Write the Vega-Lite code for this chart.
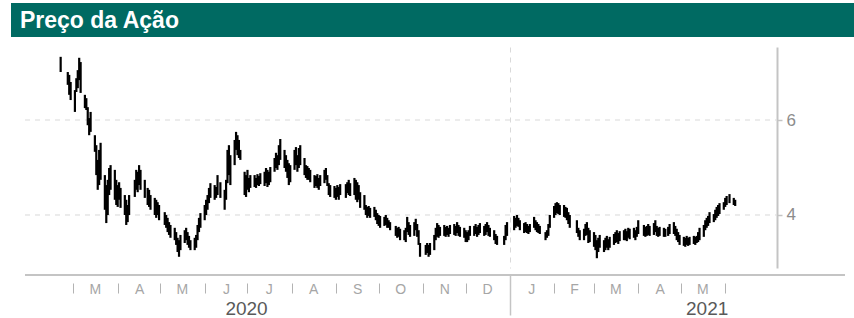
{
  "$schema": "https://vega.github.io/schema/vega-lite/v6.json",
  "padding": {"left": 11, "top": 3, "right": 0, "bottom": 0},
  "background": "white",
  "config": {"view": {"stroke": null}, "font": "Liberation Sans"},
  "spacing": 10,
  "vconcat": [
    {
      "width": 843,
      "height": 34,
      "view": {"fill": "#006a62", "stroke": null},
      "data": {"values": [{"t": "Preço da Ação"}]},
      "mark": {"type": "text", "align": "left", "baseline": "middle", "color": "white", "fontSize": 23, "fontWeight": "bold", "font": "Liberation Sans", "dx": 9, "dy": 1},
      "encoding": {
        "text": {"field": "t"},
        "x": {"datum": 0, "type": "quantitative", "scale": {"domain": [0, 1]}, "axis": null},
        "y": {"datum": 0.5, "type": "quantitative", "scale": {"domain": [0, 1]}, "axis": null}
      }
    },
    {
      "width": 834,
      "height": 221,
      "layer": [
        {
          "data": {"values": [{"g": 4}, {"g": 6}]},
          "mark": {"type": "rule", "color": "#d9d9d9", "strokeDash": [5, 5], "strokeWidth": 1},
          "encoding": {
            "y": {"field": "g", "type": "quantitative", "axis": null},
            "x": {"datum": {"year": 2020, "month": 1, "date": 27, "utc": true}, "type": "temporal", "scale": {"type": "utc"}, "axis": null},
            "x2": {"datum": {"year": 2021, "month": 7, "date": 7, "utc": true}}
          }
        },
        {
          "data": {"values": [{"g": 2.737}]},
          "mark": {"type": "rule", "color": "#c4c4c4", "strokeWidth": 2},
          "encoding": {
            "y": {"field": "g", "type": "quantitative", "axis": null},
            "x": {"datum": {"year": 2020, "month": 1, "date": 27, "utc": true}, "type": "temporal", "scale": {"type": "utc"}, "axis": null},
            "x2": {"datum": {"year": 2021, "month": 8, "date": 24, "utc": true}}
          }
        },
        {
          "data": {"values": [
{"d":"2020-02-21","lo":7.01,"hi":7.33},{"d":"2020-02-26","lo":6.74,"hi":7.01},{"d":"2020-02-27","lo":6.53,"hi":6.95},{"d":"2020-02-28","lo":6.42,"hi":6.80},
{"d":"2020-03-02","lo":6.17,"hi":6.63},{"d":"2020-03-03","lo":6.59,"hi":6.88},{"d":"2020-03-04","lo":6.67,"hi":7.05},{"d":"2020-03-05","lo":6.84,"hi":7.31},{"d":"2020-03-06","lo":6.57,"hi":7.22},
{"d":"2020-03-09","lo":6.25,"hi":6.53},{"d":"2020-03-10","lo":6.21,"hi":6.46},{"d":"2020-03-11","lo":5.89,"hi":6.27},{"d":"2020-03-12","lo":5.68,"hi":6.04},{"d":"2020-03-13","lo":5.75,"hi":6.17},
{"d":"2020-03-16","lo":5.33,"hi":5.68},{"d":"2020-03-17","lo":4.84,"hi":5.47},{"d":"2020-03-18","lo":4.53,"hi":5.16},{"d":"2020-03-19","lo":4.63,"hi":5.37},{"d":"2020-03-20","lo":4.74,"hi":5.52},
{"d":"2020-03-23","lo":4.11,"hi":4.84},{"d":"2020-03-24","lo":3.83,"hi":4.63},{"d":"2020-03-25","lo":4.00,"hi":4.74},{"d":"2020-03-26","lo":4.42,"hi":4.99},{"d":"2020-03-27","lo":4.53,"hi":5.05},
{"d":"2020-03-30","lo":4.32,"hi":4.95},{"d":"2020-03-31","lo":4.21,"hi":4.74},{"d":"2020-04-01","lo":4.17,"hi":4.63},{"d":"2020-04-02","lo":4.32,"hi":4.69},{"d":"2020-04-03","lo":4.15,"hi":4.57},
{"d":"2020-04-06","lo":4.00,"hi":4.42},{"d":"2020-04-07","lo":3.79,"hi":4.32},{"d":"2020-04-08","lo":3.85,"hi":4.21},{"d":"2020-04-09","lo":4.00,"hi":4.42},
{"d":"2020-04-13","lo":4.38,"hi":4.74},{"d":"2020-04-14","lo":4.53,"hi":4.95},{"d":"2020-04-15","lo":4.48,"hi":4.91},{"d":"2020-04-16","lo":4.63,"hi":5.05},{"d":"2020-04-17","lo":4.53,"hi":4.95},
{"d":"2020-04-20","lo":4.36,"hi":4.74},{"d":"2020-04-22","lo":4.21,"hi":4.57},{"d":"2020-04-23","lo":4.17,"hi":4.53},{"d":"2020-04-24","lo":4.11,"hi":4.42},
{"d":"2020-04-27","lo":4.00,"hi":4.36},{"d":"2020-04-28","lo":3.94,"hi":4.32},{"d":"2020-04-29","lo":4.00,"hi":4.27},{"d":"2020-04-30","lo":3.89,"hi":4.21},
{"d":"2020-05-04","lo":3.79,"hi":4.06},{"d":"2020-05-05","lo":3.73,"hi":4.00},{"d":"2020-05-06","lo":3.64,"hi":3.94},{"d":"2020-05-07","lo":3.58,"hi":3.85},{"d":"2020-05-08","lo":3.52,"hi":3.79},
{"d":"2020-05-11","lo":3.47,"hi":3.73},{"d":"2020-05-12","lo":3.37,"hi":3.64},{"d":"2020-05-13","lo":3.22,"hi":3.52},{"d":"2020-05-14","lo":3.12,"hi":3.47},{"d":"2020-05-15","lo":3.26,"hi":3.58},
{"d":"2020-05-18","lo":3.41,"hi":3.68},{"d":"2020-05-19","lo":3.47,"hi":3.73},{"d":"2020-05-20","lo":3.37,"hi":3.64},{"d":"2020-05-21","lo":3.31,"hi":3.56},{"d":"2020-05-22","lo":3.26,"hi":3.47},
{"d":"2020-05-25","lo":3.26,"hi":3.52},{"d":"2020-05-26","lo":3.31,"hi":3.58},{"d":"2020-05-27","lo":3.47,"hi":3.79},{"d":"2020-05-28","lo":3.64,"hi":3.94},{"d":"2020-05-29","lo":3.73,"hi":4.04},
{"d":"2020-06-01","lo":3.89,"hi":4.21},{"d":"2020-06-02","lo":4.00,"hi":4.32},{"d":"2020-06-03","lo":4.11,"hi":4.42},{"d":"2020-06-04","lo":4.25,"hi":4.57},{"d":"2020-06-05","lo":4.36,"hi":4.67},
{"d":"2020-06-08","lo":4.32,"hi":4.63},{"d":"2020-06-09","lo":4.36,"hi":4.59},{"d":"2020-06-10","lo":4.42,"hi":4.84},{"d":"2020-06-12","lo":4.36,"hi":4.69},
{"d":"2020-06-15","lo":4.11,"hi":4.53},{"d":"2020-06-16","lo":4.32,"hi":4.74},{"d":"2020-06-17","lo":4.67,"hi":5.37},{"d":"2020-06-18","lo":4.84,"hi":5.47},{"d":"2020-06-19","lo":4.63,"hi":5.26},
{"d":"2020-06-22","lo":5.05,"hi":5.58},{"d":"2020-06-23","lo":5.37,"hi":5.75},{"d":"2020-06-24","lo":5.26,"hi":5.68},{"d":"2020-06-25","lo":5.20,"hi":5.58},{"d":"2020-06-26","lo":5.16,"hi":5.37},
{"d":"2020-06-29","lo":4.42,"hi":4.91},{"d":"2020-06-30","lo":4.38,"hi":4.84},{"d":"2020-07-01","lo":4.53,"hi":4.95},{"d":"2020-07-02","lo":4.48,"hi":4.78},{"d":"2020-07-03","lo":4.57,"hi":4.84},
{"d":"2020-07-06","lo":4.59,"hi":4.84},{"d":"2020-07-07","lo":4.57,"hi":4.78},{"d":"2020-07-08","lo":4.63,"hi":4.86},{"d":"2020-07-09","lo":4.61,"hi":4.82},{"d":"2020-07-10","lo":4.65,"hi":4.88},
{"d":"2020-07-13","lo":4.61,"hi":4.91},{"d":"2020-07-14","lo":4.67,"hi":4.99},{"d":"2020-07-15","lo":4.59,"hi":4.95},{"d":"2020-07-16","lo":4.63,"hi":4.91},{"d":"2020-07-17","lo":4.69,"hi":5.01},
{"d":"2020-07-20","lo":4.91,"hi":5.20},{"d":"2020-07-21","lo":4.99,"hi":5.31},{"d":"2020-07-22","lo":4.95,"hi":5.26},{"d":"2020-07-23","lo":5.05,"hi":5.47},{"d":"2020-07-24","lo":5.16,"hi":5.60},
{"d":"2020-07-27","lo":4.99,"hi":5.37},{"d":"2020-07-28","lo":4.91,"hi":5.26},{"d":"2020-07-29","lo":4.78,"hi":5.16},{"d":"2020-07-30","lo":4.63,"hi":5.09},{"d":"2020-07-31","lo":4.69,"hi":5.05},
{"d":"2020-08-03","lo":4.95,"hi":5.37},{"d":"2020-08-04","lo":5.05,"hi":5.43},{"d":"2020-08-05","lo":4.91,"hi":5.26},{"d":"2020-08-06","lo":4.99,"hi":5.41},{"d":"2020-08-07","lo":5.05,"hi":5.47},
{"d":"2020-08-10","lo":4.84,"hi":5.20},{"d":"2020-08-11","lo":4.78,"hi":5.05},{"d":"2020-08-12","lo":4.74,"hi":5.03},{"d":"2020-08-13","lo":4.74,"hi":4.99},{"d":"2020-08-14","lo":4.69,"hi":4.95},
{"d":"2020-08-17","lo":4.57,"hi":4.84},{"d":"2020-08-18","lo":4.61,"hi":4.82},{"d":"2020-08-19","lo":4.57,"hi":4.86},{"d":"2020-08-20","lo":4.53,"hi":4.78},{"d":"2020-08-21","lo":4.61,"hi":4.84},
{"d":"2020-08-24","lo":4.67,"hi":4.95},{"d":"2020-08-25","lo":4.74,"hi":4.99},{"d":"2020-08-26","lo":4.61,"hi":4.84},{"d":"2020-08-27","lo":4.42,"hi":4.67},{"d":"2020-08-28","lo":4.38,"hi":4.63},
{"d":"2020-08-31","lo":4.36,"hi":4.61},{"d":"2020-09-01","lo":4.32,"hi":4.57},{"d":"2020-09-02","lo":4.38,"hi":4.63},{"d":"2020-09-03","lo":4.32,"hi":4.59},{"d":"2020-09-04","lo":4.42,"hi":4.65},
{"d":"2020-09-08","lo":4.36,"hi":4.65},{"d":"2020-09-09","lo":4.46,"hi":4.69},{"d":"2020-09-10","lo":4.42,"hi":4.74},{"d":"2020-09-11","lo":4.40,"hi":4.67},
{"d":"2020-09-14","lo":4.42,"hi":4.78},{"d":"2020-09-15","lo":4.32,"hi":4.74},{"d":"2020-09-16","lo":4.27,"hi":4.69},{"d":"2020-09-17","lo":4.32,"hi":4.63},{"d":"2020-09-18","lo":4.15,"hi":4.48},
{"d":"2020-09-21","lo":4.11,"hi":4.42},{"d":"2020-09-22","lo":4.00,"hi":4.21},{"d":"2020-09-23","lo":3.94,"hi":4.17},{"d":"2020-09-24","lo":3.98,"hi":4.19},{"d":"2020-09-25","lo":3.94,"hi":4.15},
{"d":"2020-09-28","lo":3.96,"hi":4.17},{"d":"2020-09-29","lo":3.89,"hi":4.11},{"d":"2020-09-30","lo":3.81,"hi":4.04},{"d":"2020-10-01","lo":3.77,"hi":4.00},{"d":"2020-10-02","lo":3.73,"hi":3.98},
{"d":"2020-10-05","lo":3.77,"hi":3.96},{"d":"2020-10-06","lo":3.79,"hi":4.00},{"d":"2020-10-07","lo":3.73,"hi":3.94},{"d":"2020-10-08","lo":3.73,"hi":3.89},{"d":"2020-10-09","lo":3.68,"hi":3.85},
{"d":"2020-10-13","lo":3.56,"hi":3.77},{"d":"2020-10-14","lo":3.52,"hi":3.73},{"d":"2020-10-15","lo":3.54,"hi":3.75},{"d":"2020-10-16","lo":3.47,"hi":3.71},
{"d":"2020-10-19","lo":3.47,"hi":3.68},{"d":"2020-10-20","lo":3.43,"hi":3.73},{"d":"2020-10-21","lo":3.64,"hi":3.96},{"d":"2020-10-22","lo":3.58,"hi":3.85},{"d":"2020-10-23","lo":3.54,"hi":3.79},
{"d":"2020-10-26","lo":3.56,"hi":3.85},{"d":"2020-10-27","lo":3.68,"hi":3.92},{"d":"2020-10-28","lo":3.54,"hi":3.81},{"d":"2020-10-29","lo":3.37,"hi":3.68},{"d":"2020-10-30","lo":3.12,"hi":3.41},
{"d":"2020-11-03","lo":3.16,"hi":3.37},{"d":"2020-11-04","lo":3.20,"hi":3.41},{"d":"2020-11-05","lo":3.12,"hi":3.37},{"d":"2020-11-06","lo":3.16,"hi":3.41},
{"d":"2020-11-09","lo":3.26,"hi":3.58},{"d":"2020-11-10","lo":3.47,"hi":3.73},{"d":"2020-11-11","lo":3.54,"hi":3.83},{"d":"2020-11-12","lo":3.52,"hi":3.79},{"d":"2020-11-13","lo":3.56,"hi":3.75},
{"d":"2020-11-16","lo":3.56,"hi":3.79},{"d":"2020-11-17","lo":3.54,"hi":3.75},{"d":"2020-11-18","lo":3.58,"hi":3.77},{"d":"2020-11-19","lo":3.54,"hi":3.73},{"d":"2020-11-20","lo":3.60,"hi":3.79},
{"d":"2020-11-23","lo":3.58,"hi":3.81},{"d":"2020-11-24","lo":3.56,"hi":3.77},{"d":"2020-11-25","lo":3.62,"hi":3.85},{"d":"2020-11-26","lo":3.56,"hi":3.79},{"d":"2020-11-27","lo":3.54,"hi":3.75},
{"d":"2020-11-30","lo":3.52,"hi":3.73},{"d":"2020-12-01","lo":3.43,"hi":3.68},{"d":"2020-12-02","lo":3.43,"hi":3.64},{"d":"2020-12-03","lo":3.47,"hi":3.68},{"d":"2020-12-04","lo":3.56,"hi":3.77},
{"d":"2020-12-07","lo":3.56,"hi":3.77},{"d":"2020-12-08","lo":3.60,"hi":3.81},{"d":"2020-12-09","lo":3.54,"hi":3.75},{"d":"2020-12-10","lo":3.58,"hi":3.79},{"d":"2020-12-11","lo":3.62,"hi":3.83},
{"d":"2020-12-14","lo":3.56,"hi":3.77},{"d":"2020-12-15","lo":3.58,"hi":3.81},{"d":"2020-12-16","lo":3.64,"hi":3.85},{"d":"2020-12-17","lo":3.56,"hi":3.79},{"d":"2020-12-18","lo":3.54,"hi":3.73},
{"d":"2020-12-21","lo":3.47,"hi":3.68},{"d":"2020-12-22","lo":3.39,"hi":3.60},{"d":"2020-12-23","lo":3.37,"hi":3.56},
{"d":"2020-12-28","lo":3.37,"hi":3.56},{"d":"2020-12-29","lo":3.47,"hi":3.79},{"d":"2020-12-30","lo":3.56,"hi":3.85},
{"d":"2021-01-04","lo":3.68,"hi":3.98},{"d":"2021-01-05","lo":3.73,"hi":3.94},{"d":"2021-01-06","lo":3.77,"hi":4.00},{"d":"2021-01-07","lo":3.75,"hi":3.94},{"d":"2021-01-08","lo":3.68,"hi":3.89},
{"d":"2021-01-11","lo":3.62,"hi":3.83},{"d":"2021-01-12","lo":3.64,"hi":3.85},{"d":"2021-01-13","lo":3.62,"hi":3.81},{"d":"2021-01-14","lo":3.60,"hi":3.77},{"d":"2021-01-15","lo":3.64,"hi":3.81},
{"d":"2021-01-18","lo":3.73,"hi":3.96},{"d":"2021-01-19","lo":3.68,"hi":3.89},{"d":"2021-01-20","lo":3.64,"hi":3.85},{"d":"2021-01-21","lo":3.62,"hi":3.81},{"d":"2021-01-22","lo":3.60,"hi":3.77},
{"d":"2021-01-26","lo":3.47,"hi":3.64},{"d":"2021-01-27","lo":3.52,"hi":3.68},{"d":"2021-01-28","lo":3.56,"hi":3.81},{"d":"2021-01-29","lo":3.73,"hi":4.00},
{"d":"2021-02-01","lo":3.94,"hi":4.19},{"d":"2021-02-02","lo":4.00,"hi":4.25},{"d":"2021-02-03","lo":4.04,"hi":4.27},{"d":"2021-02-04","lo":4.02,"hi":4.25},{"d":"2021-02-05","lo":4.00,"hi":4.21},
{"d":"2021-02-08","lo":3.96,"hi":4.21},{"d":"2021-02-09","lo":3.94,"hi":4.17},{"d":"2021-02-10","lo":3.89,"hi":4.15},{"d":"2021-02-11","lo":3.81,"hi":4.06},{"d":"2021-02-12","lo":3.73,"hi":4.00},
{"d":"2021-02-17","lo":3.62,"hi":3.89},{"d":"2021-02-18","lo":3.54,"hi":3.73},{"d":"2021-02-19","lo":3.47,"hi":3.68},
{"d":"2021-02-22","lo":3.47,"hi":3.71},{"d":"2021-02-23","lo":3.56,"hi":3.81},{"d":"2021-02-24","lo":3.58,"hi":3.85},{"d":"2021-02-25","lo":3.41,"hi":3.73},{"d":"2021-02-26","lo":3.43,"hi":3.68},
{"d":"2021-03-01","lo":3.33,"hi":3.64},{"d":"2021-03-02","lo":3.26,"hi":3.58},{"d":"2021-03-03","lo":3.09,"hi":3.47},{"d":"2021-03-04","lo":3.22,"hi":3.52},{"d":"2021-03-05","lo":3.31,"hi":3.58},
{"d":"2021-03-08","lo":3.22,"hi":3.47},{"d":"2021-03-09","lo":3.26,"hi":3.52},{"d":"2021-03-10","lo":3.31,"hi":3.56},{"d":"2021-03-11","lo":3.26,"hi":3.49},{"d":"2021-03-12","lo":3.31,"hi":3.54},
{"d":"2021-03-15","lo":3.37,"hi":3.60},{"d":"2021-03-16","lo":3.41,"hi":3.64},{"d":"2021-03-17","lo":3.43,"hi":3.68},{"d":"2021-03-18","lo":3.39,"hi":3.62},{"d":"2021-03-19","lo":3.45,"hi":3.66},
{"d":"2021-03-22","lo":3.47,"hi":3.68},{"d":"2021-03-23","lo":3.47,"hi":3.71},{"d":"2021-03-24","lo":3.45,"hi":3.66},{"d":"2021-03-25","lo":3.52,"hi":3.73},{"d":"2021-03-26","lo":3.49,"hi":3.71},
{"d":"2021-03-29","lo":3.52,"hi":3.73},{"d":"2021-03-30","lo":3.47,"hi":3.68},{"d":"2021-03-31","lo":3.54,"hi":3.75},{"d":"2021-04-01","lo":3.60,"hi":3.89},
{"d":"2021-04-05","lo":3.56,"hi":3.79},{"d":"2021-04-06","lo":3.54,"hi":3.75},{"d":"2021-04-07","lo":3.56,"hi":3.77},{"d":"2021-04-08","lo":3.58,"hi":3.81},{"d":"2021-04-09","lo":3.56,"hi":3.77},
{"d":"2021-04-12","lo":3.58,"hi":3.83},{"d":"2021-04-13","lo":3.64,"hi":3.89},{"d":"2021-04-14","lo":3.56,"hi":3.77},{"d":"2021-04-15","lo":3.54,"hi":3.73},{"d":"2021-04-16","lo":3.56,"hi":3.75},
{"d":"2021-04-19","lo":3.54,"hi":3.73},{"d":"2021-04-20","lo":3.54,"hi":3.71},{"d":"2021-04-22","lo":3.56,"hi":3.75},{"d":"2021-04-23","lo":3.60,"hi":3.81},
{"d":"2021-04-26","lo":3.60,"hi":3.85},{"d":"2021-04-27","lo":3.56,"hi":3.77},{"d":"2021-04-28","lo":3.47,"hi":3.71},{"d":"2021-04-29","lo":3.43,"hi":3.64},{"d":"2021-04-30","lo":3.37,"hi":3.58},
{"d":"2021-05-03","lo":3.35,"hi":3.54},{"d":"2021-05-04","lo":3.33,"hi":3.52},{"d":"2021-05-05","lo":3.37,"hi":3.56},{"d":"2021-05-06","lo":3.35,"hi":3.52},{"d":"2021-05-07","lo":3.37,"hi":3.54},
{"d":"2021-05-10","lo":3.39,"hi":3.56},{"d":"2021-05-11","lo":3.37,"hi":3.54},{"d":"2021-05-12","lo":3.41,"hi":3.56},{"d":"2021-05-13","lo":3.43,"hi":3.64},{"d":"2021-05-14","lo":3.47,"hi":3.73},
{"d":"2021-05-17","lo":3.54,"hi":3.79},{"d":"2021-05-18","lo":3.68,"hi":3.89},{"d":"2021-05-19","lo":3.73,"hi":3.94},{"d":"2021-05-20","lo":3.77,"hi":3.98},{"d":"2021-05-21","lo":3.83,"hi":4.06},
{"d":"2021-05-24","lo":3.85,"hi":4.02},{"d":"2021-05-25","lo":3.89,"hi":4.11},{"d":"2021-05-26","lo":3.94,"hi":4.17},{"d":"2021-05-27","lo":3.98,"hi":4.21},{"d":"2021-05-28","lo":4.02,"hi":4.25},
{"d":"2021-05-31","lo":4.11,"hi":4.27},{"d":"2021-06-01","lo":4.17,"hi":4.36},{"d":"2021-06-02","lo":4.21,"hi":4.40},{"d":"2021-06-04","lo":4.25,"hi":4.44},
{"d":"2021-06-07","lo":4.21,"hi":4.36},{"d":"2021-06-08","lo":4.19,"hi":4.32}
          ]},
          "mark": {"type": "rule", "color": "black", "strokeWidth": 2.2},
          "encoding": {
            "x": {
              "field": "d", "type": "temporal",
              "scale": {"type": "utc", "nice": false, "domain": [{"year": 2020, "month": 1, "date": 17, "hours": 4, "minutes": 20, "utc": true}, {"year": 2021, "month": 8, "date": 24, "utc": true}]},
              "axis": {
                "orient": "bottom", "offset": 7, "title": null,
                "domain": false,
                "ticks": false, "grid": false,
                "labelFontSize": 14, "labelColor": "#a6a6a6", "labelFont": "Liberation Sans", "labelPadding": 7,
                "labelOverlap": false, "labelFlush": false, "labelBound": false,
                "values": [
                  {"year": 2020, "month": 3, "date": 16, "utc": true},
                  {"year": 2020, "month": 4, "date": 16, "utc": true},
                  {"year": 2020, "month": 5, "date": 16, "utc": true},
                  {"year": 2020, "month": 6, "date": 16, "utc": true},
                  {"year": 2020, "month": 7, "date": 16, "utc": true},
                  {"year": 2020, "month": 8, "date": 16, "utc": true},
                  {"year": 2020, "month": 9, "date": 16, "utc": true},
                  {"year": 2020, "month": 10, "date": 16, "utc": true},
                  {"year": 2020, "month": 11, "date": 16, "utc": true},
                  {"year": 2020, "month": 12, "date": 16, "utc": true},
                  {"year": 2021, "month": 1, "date": 16, "utc": true},
                  {"year": 2021, "month": 2, "date": 15, "utc": true},
                  {"year": 2021, "month": 3, "date": 16, "utc": true},
                  {"year": 2021, "month": 4, "date": 16, "utc": true},
                  {"year": 2021, "month": 5, "date": 16, "utc": true}
                ],
                "labelExpr": "['J','F','M','A','M','J','J','A','S','O','N','D'][utcmonth(datum.value)]"
              }
            },
            "y": {
              "field": "lo", "type": "quantitative",
              "scale": {"domain": [2.884, 7.537], "nice": false, "zero": false},
              "axis": {
                "orient": "right", "offset": -68, "title": null,
                "domain": true, "domainColor": "#c4c4c4", "domainWidth": 2,
                "ticks": true, "tickSize": 5, "tickColor": "#c4c4c4", "tickWidth": 1.5,
                "grid": false, "values": [4, 6],
                "labelFontSize": 17, "labelColor": "#8c8c8c", "labelPadding": 4, "labelFont": "Liberation Sans"
              }
            },
            "y2": {"field": "hi"}
          }
        },
        {
          "data": {"values": []},
          "mark": {"type": "rule"},
          "encoding": {
            "x": {
              "field": "d", "type": "temporal", "scale": {"type": "utc"},
              "axis": {
                "orient": "bottom", "offset": 15, "title": null,
                "domain": false, "labels": false, "grid": false,
                "ticks": true, "tickSize": 10, "tickColor": "#b3b3b3", "tickWidth": 1,
                "values": [
                  {"year": 2020, "month": 3, "date": 1, "utc": true},
                  {"year": 2020, "month": 4, "date": 1, "utc": true},
                  {"year": 2020, "month": 5, "date": 1, "utc": true},
                  {"year": 2020, "month": 6, "date": 1, "utc": true},
                  {"year": 2020, "month": 7, "date": 1, "utc": true},
                  {"year": 2020, "month": 8, "date": 1, "utc": true},
                  {"year": 2020, "month": 9, "date": 1, "utc": true},
                  {"year": 2020, "month": 10, "date": 1, "utc": true},
                  {"year": 2020, "month": 11, "date": 1, "utc": true},
                  {"year": 2020, "month": 12, "date": 1, "utc": true},
                  {"year": 2021, "month": 2, "date": 1, "utc": true},
                  {"year": 2021, "month": 3, "date": 1, "utc": true},
                  {"year": 2021, "month": 4, "date": 1, "utc": true},
                  {"year": 2021, "month": 5, "date": 1, "utc": true},
                  {"year": 2021, "month": 6, "date": 1, "utc": true}
                ]
              }
            },
            "y": {"field": "lo", "type": "quantitative", "axis": null}
          }
        },
        {
          "data": {"values": []},
          "mark": {"type": "rule"},
          "encoding": {
            "x": {
              "field": "d", "type": "temporal", "scale": {"type": "utc"},
              "axis": {
                "orient": "bottom", "offset": 7, "title": null,
                "domain": false, "labels": false,
                "ticks": true, "tickSize": 40, "tickColor": "#c4c4c4", "tickWidth": 1.5,
                "grid": true, "gridColor": "#d9d9d9", "gridDash": [5, 5], "gridWidth": 1,
                "values": [{"year": 2021, "month": 1, "date": 1, "utc": true}]
              }
            },
            "y": {"field": "lo", "type": "quantitative", "axis": null}
          }
        },
        {
          "data": {"values": []},
          "mark": {"type": "rule"},
          "encoding": {
            "x": {
              "field": "d", "type": "temporal", "scale": {"type": "utc"},
              "axis": {
                "orient": "bottom", "offset": 7, "title": null,
                "domain": false, "ticks": false, "grid": false,
                "labelFontSize": 19, "labelColor": "#595959", "labelFont": "Liberation Sans", "labelPadding": 24,
                "labelOverlap": false, "labelFlush": false, "labelBound": false,
                "values": [{"year": 2020, "month": 6, "date": 30, "utc": true}, {"year": 2021, "month": 5, "date": 19, "utc": true}],
                "labelExpr": "'' + utcyear(datum.value)"
              }
            },
            "y": {"field": "lo", "type": "quantitative", "axis": null}
          }
        }
      ],
      "resolve": {"axis": {"x": "independent", "y": "independent"}}
    }
  ]
}
